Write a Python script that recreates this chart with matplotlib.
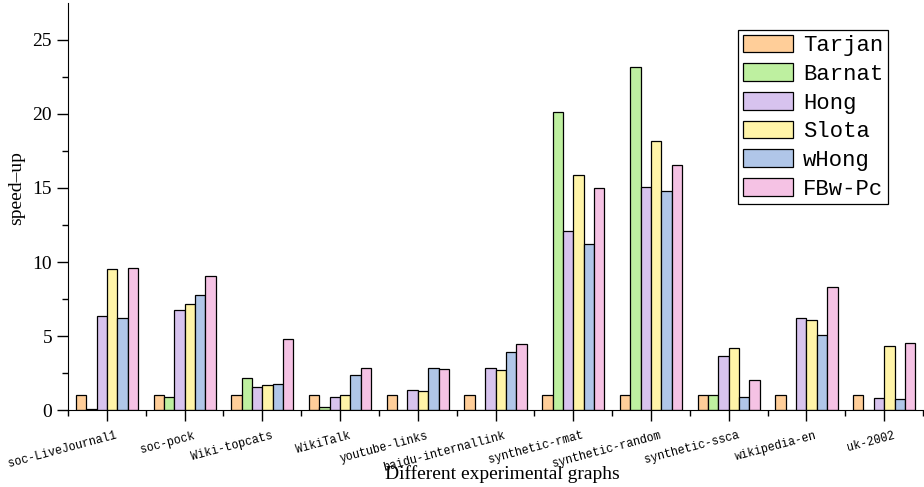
import numpy as np
import matplotlib.pyplot as plt
from matplotlib.transforms import ScaledTranslation

# graphs on the x axis
graphs = ['soc-LiveJournal1', 'soc-pock', 'Wiki-topcats', 'WikiTalk',
          'youtube-links', 'baidu-internallink', 'synthetic-rmat',
          'synthetic-random', 'synthetic-ssca', 'wikipedia-en', 'uk-2002']

# speed-up of each algorithm
tarjan = [1, 1, 1, 1, 1, 1, 1, 1, 1, 1, 1]
barnat = [0.1, 0.88, 2.14, 0.23, 0, 0, 20.1, 23.2, 1.03, 0, 0]
hong = [6.33, 6.74, 1.58, 0.86, 1.37, 2.82, 12.1, 15.1, 3.63, 6.24, 0.79]
slota = [9.5, 7.14, 1.67, 0.99, 1.26, 2.7, 15.9, 18.2, 4.17, 6.06, 4.3]
whong = [6.24, 7.77, 1.73, 2.34, 2.82, 3.92, 11.2, 14.8, 0.88, 5.07, 0.76]
fbw_pc = [9.6, 9.05, 4.8, 2.82, 2.77, 4.44, 15.0, 16.55, 2.05, 8.31, 4.53]

series = {'Tarjan': tarjan, 'Barnat': barnat, 'Hong': hong,
          'Slota': slota, 'wHong': whong, 'FBw-Pc': fbw_pc}
colors = ['#FFCE99', '#BEF0A0', '#D7C3EE', '#FFF4A8', '#B0C6E8', '#F5C2E4']

serif = 'Liberation Serif'
mono = 'Liberation Mono'

fig = plt.figure(figsize=(9.24, 4.87), dpi=100)
ax = fig.add_axes([0.0736, 0.158, 0.9254, 0.836])

x = np.arange(len(graphs))
w = 0.8 / 6
for i, (name, vals) in enumerate(series.items()):
    ax.bar(x - 0.4 + w * (i + 0.5), vals, width=w, color=colors[i],
           edgecolor='black', linewidth=0.9, label=name)

ax.set_xlim(-0.5, len(graphs) - 0.5)
ax.set_ylim(0, 27.5)
ax.set_yticks([0, 5, 10, 15, 20, 25])
ax.set_yticks(np.arange(2.5, 27.5, 5), minor=True)
ax.set_xticks(x)
ax.set_xticks(np.arange(-0.5, len(graphs), 1), minor=True)

ax.tick_params(which='major', direction='out', length=8, width=1)
ax.tick_params(which='minor', direction='out', length=4, width=1)
ax.tick_params(axis='x', which='major', pad=6)
ax.spines['top'].set_visible(False)
ax.spines['right'].set_visible(False)

ax.set_xticklabels(graphs, rotation=15, ha='right', rotation_mode='anchor',
                   family=mono, fontsize=8.4)
# nudge the rotated labels a little to the right, like the original
shift = ScaledTranslation(6 / 72, 0, fig.dpi_scale_trans)
for lab in ax.get_xticklabels():
    lab.set_transform(lab.get_transform() + shift)
for lab in ax.get_yticklabels():
    lab.set_family(serif)
    lab.set_fontsize(14)

ax.set_xlabel('Different experimental graphs', family=serif, fontsize=14)
ax.xaxis.set_label_coords(0.508, -0.135)
ax.set_ylabel('speed\u2013up', family=serif, fontsize=14)
ax.yaxis.set_label_coords(-0.050, 0.545)

leg = ax.legend(loc='upper left', bbox_to_anchor=(0.784, 0.934),
                prop={'family': mono, 'size': 16}, fancybox=False,
                edgecolor='black', framealpha=1, handlelength=2.25,
                handleheight=0.85, labelspacing=0.32, borderpad=0.22,
                handletextpad=0.45, borderaxespad=0)
leg.get_frame().set_linewidth(0.9)

fig.savefig('out.png', dpi=100)
